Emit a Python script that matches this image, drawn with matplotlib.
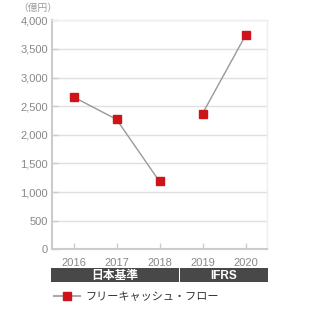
import numpy as np
import matplotlib
matplotlib.use("Agg")
import matplotlib.pyplot as plt
from matplotlib.patches import Rectangle
from matplotlib.lines import Line2D

plt.rcParams['font.family'] = ['Liberation Sans', 'Noto Sans CJK JP']

years = ["2016", "2017", "2018", "2019", "2020"]
fcf = [2660, 2270, 1185, 2370, 3735]   # 億円
groups = ["日本基準", "IFRS"]
group_sizes = [3, 2]
series_name = "フリーキャッシュ・フロー"
unit = "（億円）"

red = "#cc1419"
grey_line = "#999999"
grid_c = "#e0e0e0"

fig = plt.figure(figsize=(3.09, 3.10), dpi=100)
ax = fig.add_axes([52/309, 60.7/310, 215/309, 229/310])

x = np.arange(len(years))
# line is broken between the two accounting standards
start = 0
for n in group_sizes:
    xs = x[start:start + n]
    ys = fcf[start:start + n]
    ax.plot(xs, ys, color=grey_line, lw=1, zorder=2)
    ax.plot(xs, ys, ls='none', marker='s', ms=6, color=red, mec=red, zorder=3)
    start += n

ax.set_xlim(-0.5, len(years) - 0.5)
ax.set_ylim(0, 4000)
ax.set_xticks(x)
ax.set_xticklabels(years)
yt = np.arange(0, 4001, 500)
ax.set_yticks(yt)
ax.set_yticklabels([f"{v:,}" for v in yt])
ax.grid(axis='y', color=grid_c, lw=1)
ax.set_axisbelow(True)
ax.tick_params(axis='both', direction='in', length=4, width=1, color="#cccccc",
               labelcolor="#888888", labelsize=8)
ax.tick_params(axis='y', pad=3)
ax.tick_params(axis='x', pad=6)
for s in ['left', 'bottom']:
    ax.spines[s].set_color("#cccccc")
    ax.spines[s].set_linewidth(1.5)
for s in ['top', 'right']:
    ax.spines[s].set_color("#eeeeee")
    ax.spines[s].set_linewidth(1)

fig.text(18/309, 1 - 8/310, unit, fontsize=7, color="#999999", va='center', ha='left')

# accounting standard bands under the x axis
start = 0
y0 = (310 - 281.7) / 310
h = 14 / 310
xfig = lambda d: (52 + (d + 0.5) * 43) / 309
for i, (g, n) in enumerate(zip(groups, group_sizes)):
    left = xfig(start - 0.5) - 1/309
    right = xfig(start + n - 0.5) - (2/309 if i < len(groups) - 1 else -1/309)
    fig.add_artist(Rectangle((left, y0), right - left, h, transform=fig.transFigure,
                             facecolor="#484848", edgecolor='none'))
    fig.text((left + right) / 2, y0 + h / 2, g, color='white', fontsize=8.5,
             fontweight='bold', ha='center', va='center_baseline')
    start += n

handle = Line2D([], [], color="#aaaaaa", lw=1.5, marker='s', ms=6, mfc=red, mec=red)
fig.legend([handle], [series_name], loc='center left', bbox_to_anchor=(44/309, 1 - 297/310),
           frameon=False, fontsize=8, handlelength=2.3, handletextpad=0.5,
           labelcolor="#333333")

fig.savefig("out.png", dpi=100)
